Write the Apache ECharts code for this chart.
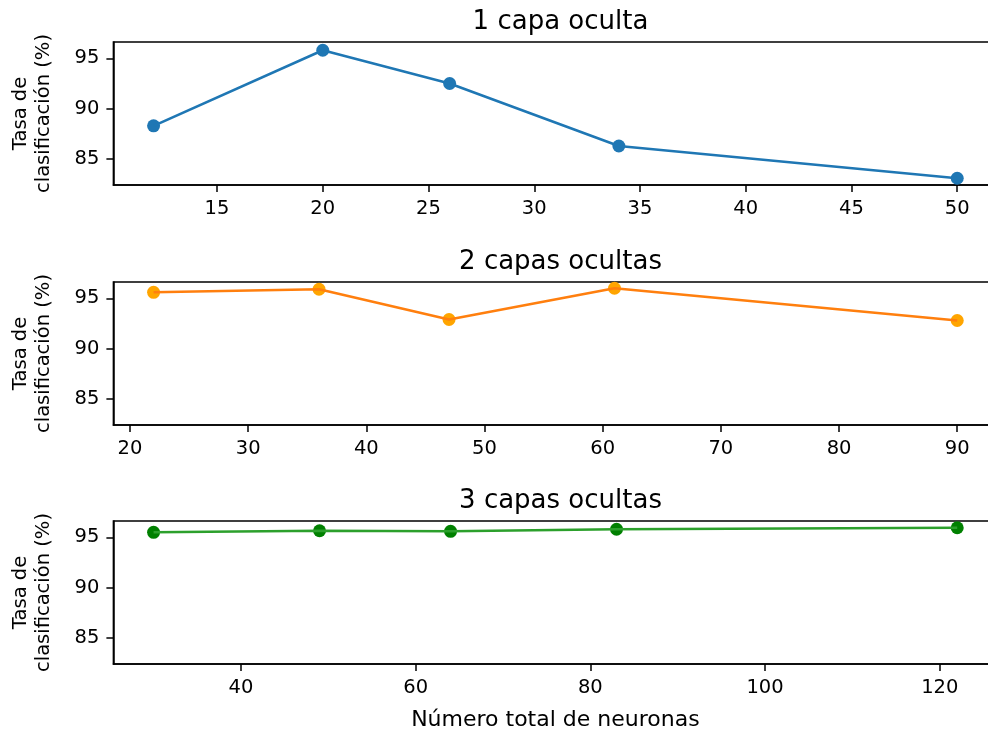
<!DOCTYPE html>
<html>
<head>
<meta charset="utf-8">
<script src="https://cdn.jsdelivr.net/npm/echarts@6/dist/echarts.min.js"></script>
<style>
html,body{margin:0;padding:0;background:#fff;}
#chart{width:988px;height:737px;}
</style>
</head>
<body>
<div id="chart"></div>
<script>
// Data
const titles = ['1 capa oculta', '2 capas ocultas', '3 capas ocultas'];
const neurons1 = [12, 20, 26, 34, 50];
const rate1 = [88.3, 95.8, 92.5, 86.3, 83.1];
const neurons2 = [22, 36, 47, 61, 90];
const rate2 = [95.6, 95.9, 92.9, 96.0, 92.8];
const neurons3 = [30, 49, 64, 83, 122];
const rate3 = [95.5, 95.65, 95.6, 95.8, 95.95];
const xTicks1 = [15, 20, 25, 30, 35, 40, 45, 50];
const xTicks2 = [20, 30, 40, 50, 60, 70, 80, 90];
const xTicks3 = [40, 60, 80, 100, 120];
const yTicks = [85, 90, 95];
const xLimits = [[10.1, 51.9], [18.6, 93.4], [25.4, 126.6]];
const yLimits = [82.43, 96.62];
const yLabel = 'Tasa de\nclasificación (%)';
const xLabel = 'Número total de neuronas';

const FONT = 'DejaVu Sans';
const lineColors = ['#1f77b4', '#ff7f0e', '#2ca02c'];
const markerColors = ['#1f77b4', '#ffa500', '#008000'];
const xs = [neurons1, neurons2, neurons3];
const ys = [rate1, rate2, rate3];
const xt = [xTicks1, xTicks2, xTicks3];
const tops = [42, 282, 521];

const grids = [], xAxes = [], yAxes = [], series = [], titleOpts = [];
for (let i = 0; i < 3; i++) {
  grids.push({left: 113.4, top: tops[i], width: 884, height: 143, show: true,
    outerBoundsMode: 'none', containLabel: false,
    borderColor: '#000', borderWidth: 1.5, backgroundColor: 'transparent'});
  titleOpts.push({text: titles[i], left: 555.5, top: tops[i] - 38, textAlign: 'center',
    textStyle: {fontFamily: FONT, fontSize: 26, fontWeight: 'normal', color: '#000'}});
  xAxes.push({type: 'value', gridIndex: i, min: xLimits[i][0], max: xLimits[i][1],
    splitLine: {show: false},
    axisLine: {show: true, onZero: false, lineStyle: {color: '#000', width: 1.5}},
    axisTick: {show: true, inside: false, length: 7, customValues: xt[i], lineStyle: {color: '#000', width: 1.5}},
    axisLabel: {customValues: xt[i], fontFamily: FONT, fontSize: 19.5, color: '#000', margin: 14},
    name: i === 2 ? xLabel : '', nameLocation: 'middle', nameGap: 45,
    nameTextStyle: {fontFamily: FONT, fontSize: 22, color: '#000'}});
  yAxes.push({type: 'value', gridIndex: i, min: yLimits[0], max: yLimits[1],
    splitLine: {show: false},
    axisLine: {show: true, onZero: false, lineStyle: {color: '#000', width: 1.5}},
    axisTick: {show: true, inside: false, length: 7, customValues: yTicks, lineStyle: {color: '#000', width: 1.5}},
    axisLabel: {customValues: yTicks, fontFamily: FONT, fontSize: 19.5, color: '#000', margin: 14},
    name: yLabel, nameLocation: 'middle', nameRotate: 90, nameGap: 58,
    nameTextStyle: {fontFamily: FONT, fontSize: 19.5, color: '#000', lineHeight: 23, align: 'center'}});
  const pts = xs[i].map((x, k) => [x, ys[i][k]]);
  series.push({type: 'scatter', xAxisIndex: i, yAxisIndex: i, data: pts, symbolSize: 13,
    itemStyle: {color: markerColors[i], opacity: 1}, z: 2, silent: true});
  series.push({type: 'line', xAxisIndex: i, yAxisIndex: i, data: pts, showSymbol: false, symbol: 'none',
    lineStyle: {color: lineColors[i], width: 2.6}, z: 3, silent: true});
}

const chart = echarts.init(document.getElementById('chart'), null, {renderer: 'canvas'});
chart.setOption({
  animation: false,
  backgroundColor: '#fff',
  title: titleOpts,
  grid: grids,
  xAxis: xAxes,
  yAxis: yAxes,
  series: series
});
</script>
</body>
</html>
